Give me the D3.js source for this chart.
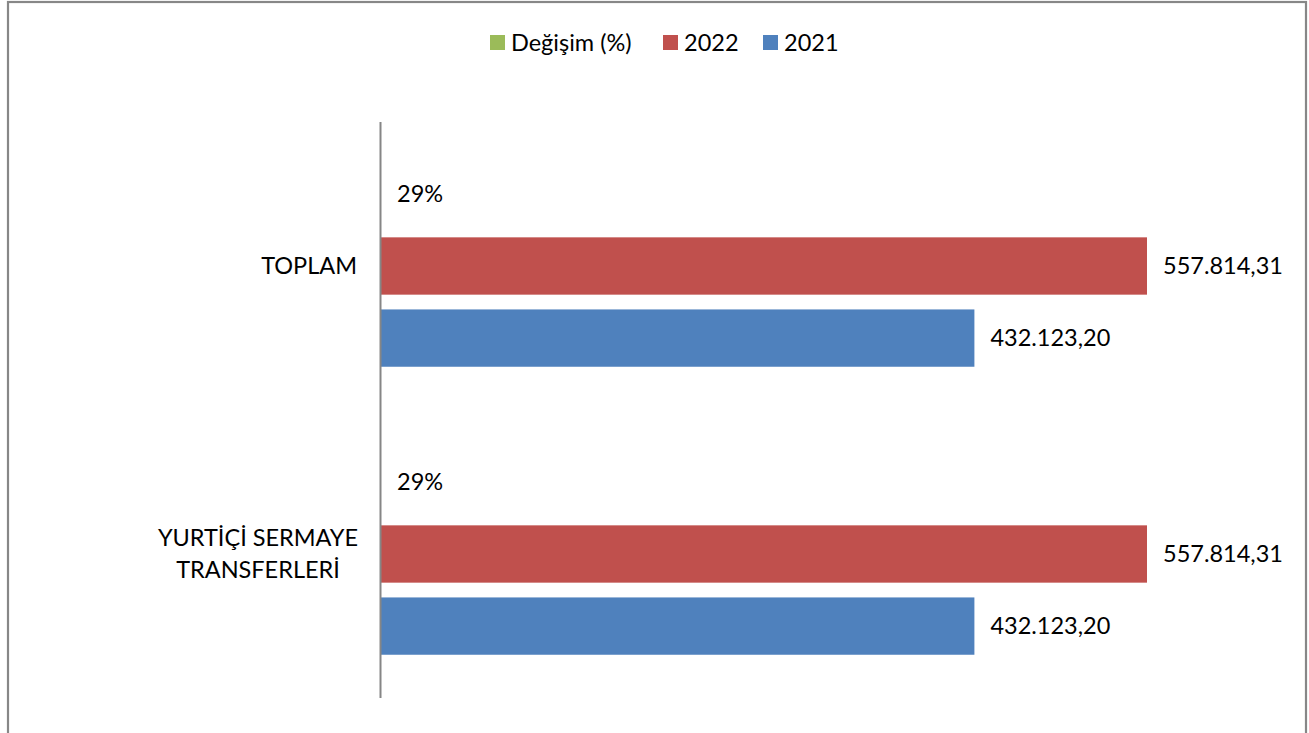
<!DOCTYPE html>
<html><head><meta charset="utf-8">
<script src="https://cdn.jsdelivr.net/npm/d3@7"></script>
<style>body{margin:0;background:#fff}svg{display:block}text{font-family:Lato,"Open Sans",sans-serif;fill:#000}</style>
</head><body><svg id="c" width="1309" height="733"></svg>
<script>
const categories = ["TOPLAM", "YURTİÇİ SERMAYE TRANSFERLERİ"];
const categoryLines = [["TOPLAM"], ["YURTİÇİ SERMAYE", "TRANSFERLERİ"]];
const seriesNames = ["Değişim (%)", "2022", "2021"];
const changeValues = [0.29, 0.29];
const values2022 = [557814.31, 557814.31];
const values2021 = [432123.20, 432123.20];
const changeLabels = ["29%", "29%"];
const labels2022 = ["557.814,31", "557.814,31"];
const labels2021 = ["432.123,20", "432.123,20"];
const colors = ["#9BBB59", "#C0504D", "#4F81BD"];
const FS = 23.5;

const svg = d3.select("#c");
svg.append("rect").attr("x", 8).attr("y", 2).attr("width", 1298).attr("height", 760)
  .attr("fill", "none").attr("stroke", "#878787").attr("stroke-width", 2.2);

const x = d3.scaleLinear().domain([0, 600000]).range([381, 381 + 600000 * 766 / 557814.31]);
const y = d3.scaleBand().domain(categories).range([122, 698]);
const sub = d3.scaleBand().domain(seriesNames).range([0, y.bandwidth()]).paddingInner(0.205).paddingOuter(0.6);

const seriesVals = [changeValues, values2022, values2021];
const seriesLabels = [changeLabels, labels2022, labels2021];

seriesNames.forEach((s, si) => {
  const g = svg.append("g");
  categories.forEach((c, ci) => {
    const v = seriesVals[si][ci];
    const y0 = y(c) + sub(s);
    g.append("rect").attr("x", x(0)).attr("y", y0)
      .attr("width", x(v) - x(0)).attr("height", sub.bandwidth()).attr("fill", colors[si]);
    g.append("text").attr("x", x(v) + 16).attr("y", y0 + sub.bandwidth() / 2)
      .attr("dy", "0.35em").attr("font-size", FS).text(seriesLabels[si][ci]);
  });
});

// axis line
svg.append("line").attr("x1", 380.5).attr("x2", 380.5).attr("y1", 122).attr("y2", 698)
  .attr("stroke", "#868686").attr("stroke-width", 2);

// category labels
categories.forEach((c, ci) => {
  const lines = categoryLines[ci];
  const cy = y(c) + y.bandwidth() / 2;
  const lh = 32;
  lines.forEach((l, li) => {
    svg.append("text").attr("x", lines.length > 1 ? 258 : 357)
      .attr("text-anchor", lines.length > 1 ? "middle" : "end")
      .attr("y", cy + (li - (lines.length - 1) / 2) * lh).attr("dy", "0.35em")
      .attr("font-size", FS).text(l);
  });
});

// legend
const legX = [490, 663, 763];
seriesNames.forEach((s, i) => {
  svg.append("rect").attr("x", legX[i]).attr("y", 35).attr("width", 15).attr("height", 15).attr("fill", colors[i]);
  svg.append("text").attr("x", legX[i] + 21).attr("y", 43).attr("dy", "0.35em").attr("font-size", FS).text(s);
});
</script></body></html>
